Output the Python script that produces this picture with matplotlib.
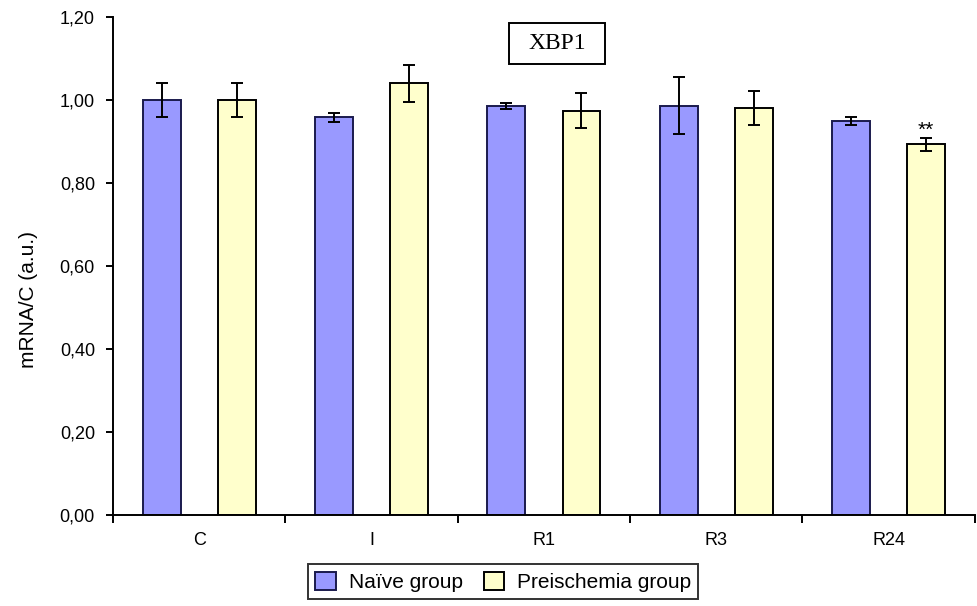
import matplotlib.pyplot as plt
from matplotlib.patches import Rectangle
import numpy as np

# XBP1 mRNA levels, naive vs preischemia groups
categories = ['C', 'I', 'R1', 'R3', 'R24']
naive = [1.00, 0.958, 0.986, 0.986, 0.949]
naive_err = [0.042, 0.011, 0.007, 0.069, 0.009]
preisch = [1.00, 1.040, 0.974, 0.980, 0.893]
preisch_err = [0.042, 0.045, 0.042, 0.041, 0.016]
yticks = [0.0, 0.2, 0.4, 0.6, 0.8, 1.0, 1.2]

plt.rcParams['font.family'] = ['Liberation Sans', 'DejaVu Sans']

fig = plt.figure(figsize=(9.77, 6.06), dpi=100)
ax = fig.add_axes([0.1157, 0.150, 0.882, 0.822])

x = np.arange(len(categories))
w = 0.22
off = 0.218
ax.bar(x - off, naive, w, color='#9999FF', edgecolor='#1a1a4d', linewidth=1.4,
       label='Naïve group', zorder=2)
ax.bar(x + off, preisch, w, color='#FFFFCC', edgecolor='black', linewidth=1.4,
       label='Preischemia group', zorder=2)
ax.errorbar(x - off, naive, yerr=naive_err, fmt='none', ecolor='black',
            elinewidth=1.4, capsize=4, capthick=1.4, zorder=3)
ax.errorbar(x + off, preisch, yerr=preisch_err, fmt='none', ecolor='black',
            elinewidth=1.4, capsize=4, capthick=1.4, zorder=3)

# significance mark on R24 preischemia
ax.text(x[-1] + off, preisch[-1] + preisch_err[-1] - 0.004, '**',
        ha='center', va='bottom', fontsize=15)

ax.set_xlim(-0.5, len(categories) - 0.5)
ax.set_ylim(0, 1.2)
ax.set_yticks(yticks)
ax.set_yticklabels([f'{v:.2f}'.replace('.', ',') for v in yticks], fontsize=13)
ax.set_xticks(np.arange(len(categories) + 1) - 0.5)
ax.set_xticklabels([])
ax.set_xticks(x, minor=True)
ax.set_xticklabels(categories, minor=True, fontsize=13)
ax.tick_params(axis='x', which='minor', length=0, pad=12)
ax.tick_params(axis='x', which='major', length=6, width=1.4, direction='out')
ax.tick_params(axis='y', length=5, width=1.4, direction='out', pad=8)

for s in ['top', 'right']:
    ax.spines[s].set_visible(False)
for s in ['left', 'bottom']:
    ax.spines[s].set_linewidth(1.4)

ax.set_ylabel('mRNA/C (a.u.)', fontsize=15)
ax.yaxis.set_label_coords(-0.087, 0.432)

# title in a box
fig.patches.append(Rectangle((0.521, 0.894), 0.098, 0.068,
                             transform=fig.transFigure, facecolor='white',
                             edgecolor='black', linewidth=1.4, zorder=5))
fig.text(0.570, 0.929, 'XBP1', ha='center', va='center', fontsize=17,
         family='Liberation Serif', zorder=6)

leg = fig.legend(loc='center', bbox_to_anchor=(0.515, 0.040), ncol=2,
                 fontsize=15, frameon=True, fancybox=False, edgecolor='black',
                 handlelength=1.0, handleheight=1.0, handletextpad=0.6,
                 columnspacing=1.0, borderpad=0.35, borderaxespad=0.2)
leg.get_frame().set_linewidth(1.4)

fig.savefig('out.png', dpi=100)
